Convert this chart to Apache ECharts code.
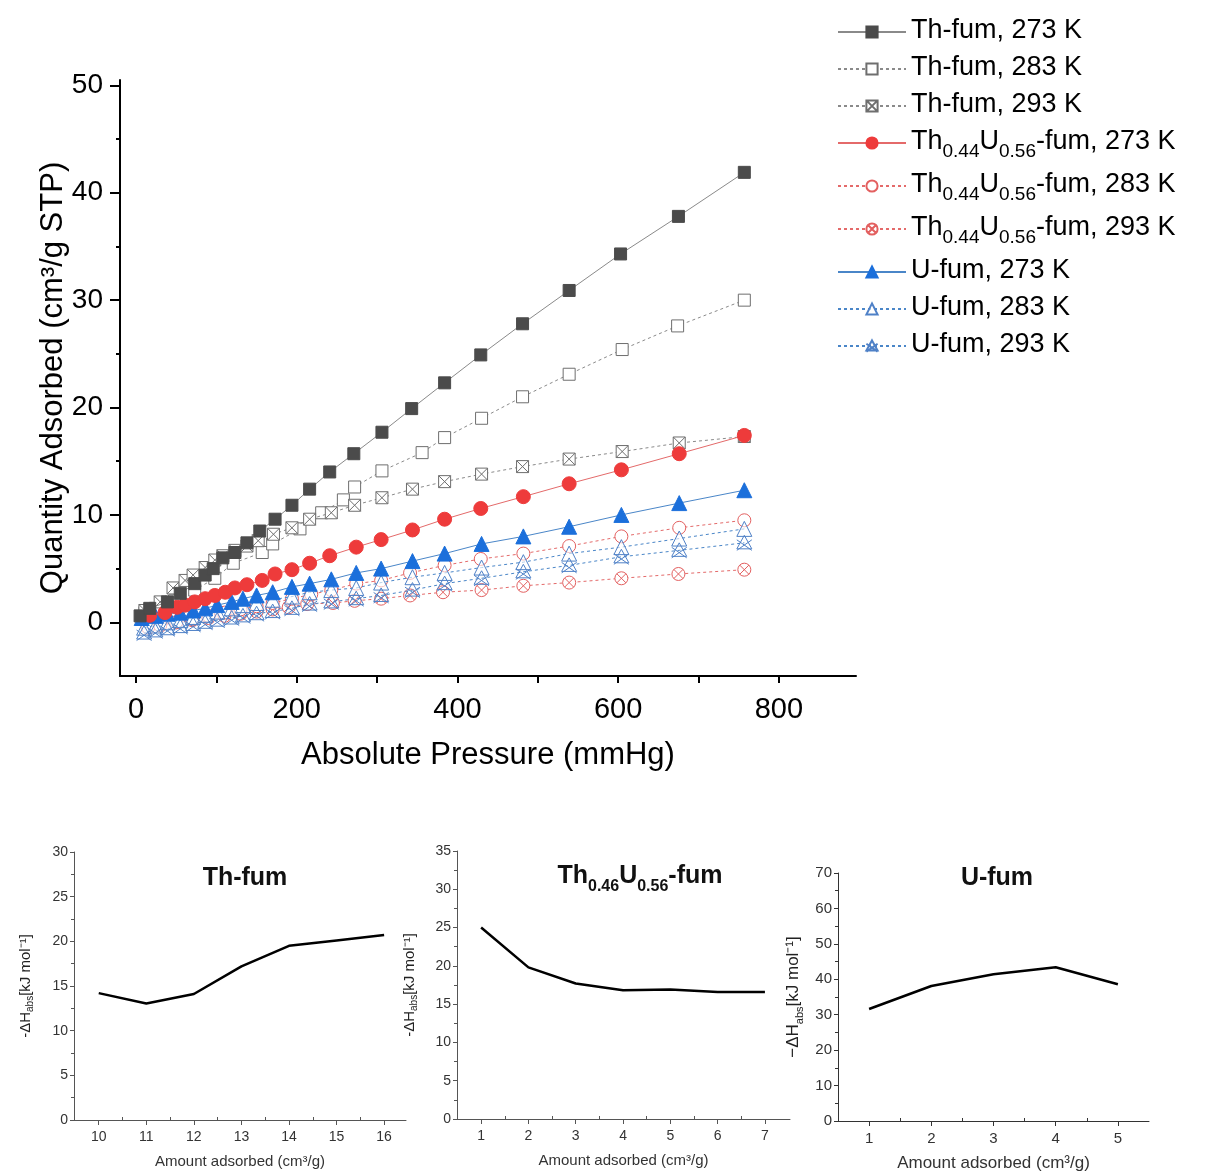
<!DOCTYPE html>
<html>
<head>
<meta charset="utf-8">
<script src="https://cdn.jsdelivr.net/npm/echarts@6/dist/echarts.min.js"></script>
<style>
html,body{margin:0;padding:0;background:#fff;}
#c{width:1219px;height:1173px;}
</style>
</head>
<body>
<div id="c"></div>
<script>
// ---------- Main isotherm data (pressure mmHg, quantity cm3/g STP) ----------
var TH273_P = [5, 17, 39, 55, 73, 86, 96, 108, 123, 138, 154, 173, 194, 216, 241, 271, 306, 343, 384, 429, 481, 539, 603, 675, 757];
var TH273_Q = [0.6, 1.3, 1.9, 2.7, 3.6, 4.4, 5.0, 6.0, 6.5, 7.4, 8.5, 9.6, 10.9, 12.4, 14.0, 15.7, 17.7, 19.9, 22.3, 24.9, 27.8, 30.9, 34.3, 37.8, 41.9];

var TH283_P = [11, 24, 48, 73, 98, 121, 157, 170, 204, 231, 258, 272, 306, 356, 384, 430, 481, 539, 605, 674, 757];
var TH283_Q = [0.9, 1.3, 2.0, 3.0, 4.1, 5.5, 6.5, 7.3, 8.7, 10.2, 11.4, 12.6, 14.1, 15.8, 17.2, 19.0, 21.0, 23.1, 25.4, 27.6, 30.0];

var TH293_P = [11, 30, 46, 61, 71, 86, 98, 108, 123, 138, 152, 171, 194, 216, 243, 272, 306, 344, 384, 430, 481, 539, 605, 676, 757];
var TH293_Q = [1.1, 1.9, 3.2, 3.9, 4.4, 5.1, 5.8, 6.2, 6.7, 7.1, 7.6, 8.2, 8.8, 9.6, 10.2, 10.9, 11.6, 12.4, 13.1, 13.8, 14.5, 15.2, 15.9, 16.7, 17.3];

var THU273_P = [17, 36, 51, 61, 73, 86, 98, 111, 123, 138, 157, 173, 194, 216, 241, 274, 305, 344, 384, 429, 482, 539, 604, 676, 757];
var THU273_Q = [0.65, 0.9, 1.4, 1.6, 1.9, 2.2, 2.5, 2.8, 3.2, 3.5, 3.9, 4.5, 4.9, 5.5, 6.2, 7.0, 7.7, 8.6, 9.6, 10.6, 11.7, 12.9, 14.2, 15.7, 17.4];

var THU283_P = [15, 30, 50, 70, 90, 110, 130, 150, 170, 194, 218, 243, 274, 305, 341, 384, 429, 482, 539, 604, 676, 757];
var THU283_Q = [-0.5, -0.3, 0.0, 0.3, 0.6, 0.9, 1.2, 1.5, 1.8, 2.2, 2.6, 3.0, 3.6, 3.9, 4.6, 5.3, 5.9, 6.4, 7.1, 8.0, 8.8, 9.5];

var THU293_P = [15, 30, 50, 70, 90, 110, 130, 150, 170, 190, 213, 245, 272, 305, 341, 382, 430, 482, 539, 604, 675, 757];
var THU293_Q = [-0.4, -0.2, 0.0, 0.2, 0.4, 0.6, 0.8, 1.0, 1.2, 1.4, 1.7, 1.8, 2.0, 2.2, 2.5, 2.8, 3.0, 3.4, 3.7, 4.1, 4.5, 4.9];

var U273_P = [7, 24, 39, 55, 71, 86, 101, 119, 133, 150, 170, 194, 216, 243, 274, 305, 344, 384, 430, 482, 539, 604, 676, 757];
var U273_Q = [0.4, 0.6, 0.8, 0.9, 1.1, 1.3, 1.6, 1.9, 2.2, 2.5, 2.8, 3.3, 3.6, 4.0, 4.6, 5.0, 5.7, 6.4, 7.3, 8.0, 8.9, 10.0, 11.1, 12.3];

var U283_P = [10, 24, 39, 55, 71, 86, 101, 119, 133, 150, 170, 194, 216, 243, 274, 305, 344, 384, 430, 482, 539, 604, 676, 757];
var U283_Q = [-0.5, -0.3, 0.0, 0.2, 0.5, 0.7, 1.0, 1.3, 1.6, 1.8, 2.1, 2.4, 2.8, 3.0, 3.2, 3.7, 4.2, 4.6, 5.1, 5.6, 6.4, 7.0, 7.8, 8.7];

var U293_P = [10, 24, 39, 55, 71, 86, 101, 119, 133, 150, 170, 194, 216, 243, 274, 305, 344, 384, 430, 482, 539, 604, 676, 757];
var U293_Q = [-1.0, -0.8, -0.6, -0.4, -0.2, 0.0, 0.2, 0.4, 0.6, 0.8, 1.0, 1.3, 1.7, 1.9, 2.2, 2.5, 3.0, 3.6, 4.1, 4.7, 5.3, 6.1, 6.7, 7.4];

var SERIES_NAMES = ['Th-fum, 273 K', 'Th-fum, 283 K', 'Th-fum, 293 K',
  'Th0.44U0.56-fum, 273 K', 'Th0.44U0.56-fum, 283 K', 'Th0.44U0.56-fum, 293 K',
  'U-fum, 273 K', 'U-fum, 283 K', 'U-fum, 293 K'];

var MAIN_X_LABELS = [0, 200, 400, 600, 800];
var MAIN_X_TICKS = [0, 100, 200, 300, 400, 500, 600, 700, 800];
var MAIN_Y_LABELS = [0, 10, 20, 30, 40, 50];
var MAIN_Y_MINOR = [5, 15, 25, 35, 45];

// ---------- Heat of adsorption data ----------
var TH_AMT = [10, 11, 12, 13, 14, 15, 16];
var TH_DH = [14.2, 13.05, 14.1, 17.2, 19.5, 20.1, 20.7];
var THU_AMT = [1, 2, 3, 4, 5, 6, 7];
var THU_DH = [25.0, 19.8, 17.7, 16.8, 16.9, 16.6, 16.6];
var U_AMT = [1, 2, 3, 4, 5];
var U_DH = [31.6, 38.1, 41.4, 43.4, 38.6];

var TH_X_LABELS = [10, 11, 12, 13, 14, 15, 16];
var TH_X_MINOR = [10.5, 11.5, 12.5, 13.5, 14.5, 15.5];
var THU_X_LABELS = [1, 2, 3, 4, 5, 6, 7];
var THU_X_MINOR = [1.5, 2.5, 3.5, 4.5, 5.5, 6.5];
var U_X_LABELS = [1, 2, 3, 4, 5];
var U_X_MINOR = [1.5, 2.5, 3.5, 4.5];

function zip(a, b) { return a.map(function (v, i) { return [v, b[i]]; }); }

var FONT = 'Liberation Sans, Arial, sans-serif';
var SQ_X = 'path://M0,0L10,0L10,10L0,10Z M0,0L10,10 M10,0L0,10';
var CIRC_X = 'path://M0,5A5,5,0,1,1,10,5A5,5,0,1,1,0,5Z M1.46,1.46L8.54,8.54 M8.54,1.46L1.46,8.54';
var TRI_X = 'path://M5,0L10,9L0,9Z M0,3L10,10 M10,3L0,10';

var GREY_FILL = '#4b4b4b', GREY_LINE = '#8a8a8a', GREY_OPEN = '#6e6e6e';
var RED_FILL = '#ee3b3b', RED_LINE = '#e46a6a', RED_OPEN = '#e36060';
var BLUE_FILL = '#1b6fdb', BLUE_LINE = '#4a86c8', BLUE_OPEN = '#4f81c7';

function mkSeries(name, p, q, symbol, size, fill, border, lineColor, dashed, z) {
  return {
    name: name, type: 'line', xAxisIndex: 0, yAxisIndex: 0,
    data: zip(p, q), symbol: symbol, symbolSize: size, showSymbol: true,
    z: z,
    itemStyle: { color: fill, borderColor: border, borderWidth: 1 },
    lineStyle: { color: lineColor, width: 1, type: dashed ? [3, 3] : 'solid' },
    emphasis: { disabled: true }, animation: false
  };
}

var series = [
  mkSeries(SERIES_NAMES[0], TH273_P, TH273_Q, 'rect', 12, GREY_FILL, GREY_FILL, GREY_LINE, false, 9),
  mkSeries(SERIES_NAMES[1], TH283_P, TH283_Q, 'rect', 12, '#fff', GREY_OPEN, GREY_LINE, true, 5),
  mkSeries(SERIES_NAMES[2], TH293_P, TH293_Q, SQ_X, 12, '#fff', GREY_OPEN, GREY_LINE, true, 6),
  mkSeries(SERIES_NAMES[3], THU273_P, THU273_Q, 'circle', 14, RED_FILL, RED_FILL, RED_LINE, false, 8),
  mkSeries(SERIES_NAMES[4], THU283_P, THU283_Q, 'circle', 13, '#fff', RED_OPEN, RED_LINE, true, 3),
  mkSeries(SERIES_NAMES[5], THU293_P, THU293_Q, CIRC_X, 13, '#fff', RED_OPEN, RED_LINE, true, 2),
  mkSeries(SERIES_NAMES[6], U273_P, U273_Q, 'triangle', 15, BLUE_FILL, BLUE_FILL, BLUE_LINE, false, 7),
  mkSeries(SERIES_NAMES[7], U283_P, U283_Q, 'triangle', 15, 'rgba(255,255,255,0.6)', BLUE_OPEN, BLUE_LINE, true, 4),
  mkSeries(SERIES_NAMES[8], U293_P, U293_Q, TRI_X, 15, 'rgba(255,255,255,0)', BLUE_OPEN, BLUE_LINE, true, 4)
];

function heatSeries(x, y, xi, yi) {
  return {
    type: 'line', xAxisIndex: xi, yAxisIndex: yi, data: zip(x, y),
    symbol: 'none', lineStyle: { color: '#000', width: 2.5 }, animation: false, silent: true
  };
}
series.push(heatSeries(TH_AMT, TH_DH, 1, 2));
series.push(heatSeries(THU_AMT, THU_DH, 2, 3));
series.push(heatSeries(U_AMT, U_DH, 3, 4));

var DH_RICH = {
  m: { fontSize: 15, lineHeight: 15, padding: [5, 0, 0, 0], verticalAlign: 'top', color: '#222', fontFamily: FONT },
  s: { fontSize: 10, lineHeight: 10, padding: [12, 0, 0, 0], verticalAlign: 'top', color: '#222', fontFamily: FONT }
};
var DH_RICH3 = {
  m: { fontSize: 17, lineHeight: 17, padding: [5, 0, 0, 0], verticalAlign: 'top', color: '#222', fontFamily: FONT },
  s: { fontSize: 11, lineHeight: 11, padding: [14, 0, 0, 0], verticalAlign: 'top', color: '#222', fontFamily: FONT }
};

function smallX(gi, min, max, labels, color, fs, name, nameFs) {
  return {
    gridIndex: gi, type: 'value', min: min, max: max,
    axisLine: { show: true, onZero: false, lineStyle: { color: color, width: 1 } },
    axisTick: { show: true, customValues: labels, length: 5, lineStyle: { color: color } },
    axisLabel: { customValues: labels, fontSize: fs, color: '#333', fontFamily: FONT, margin: 10 },
    splitLine: { show: false },
    name: name, nameLocation: 'middle', nameGap: 34,
    nameTextStyle: { fontSize: nameFs, color: '#333', fontFamily: FONT }
  };
}
function minorX(gi, min, max, vals, color) {
  return {
    gridIndex: gi, type: 'value', min: min, max: max, position: 'bottom',
    axisLine: { show: false, onZero: false },
    axisTick: { show: true, inside: true, customValues: vals, length: 3, lineStyle: { color: color } },
    axisLabel: { show: false }, splitLine: { show: false }
  };
}
function smallY(gi, max, interval, color, fs, nameRich, rich, gap) {
  return {
    gridIndex: gi, type: 'value', min: 0, max: max, interval: interval,
    axisLine: { show: true, onZero: false, lineStyle: { color: color, width: 1 } },
    axisTick: { show: true, length: 4, lineStyle: { color: color } },
    minorTick: { show: true, splitNumber: 2, length: 3, lineStyle: { color: color } },
    axisLabel: { fontSize: fs, color: '#333', fontFamily: FONT, margin: 6 },
    splitLine: { show: false },
    name: nameRich, nameLocation: 'middle', nameGap: gap, nameRotate: 90,
    nameTextStyle: { rich: rich }
  };
}

var LEG_RICH = {
  m: { fontSize: 27, lineHeight: 30, verticalAlign: 'top', color: '#000', fontFamily: FONT },
  s: { fontSize: 19, lineHeight: 19, padding: [14, 0, 0, 0], verticalAlign: 'top', color: '#000', fontFamily: FONT }
};

var option = {
  backgroundColor: '#fff',
  animation: false,
  textStyle: { fontFamily: FONT },
  grid: [
    { left: 120, top: 80, width: 736, height: 596 },
    { left: 74, top: 852, width: 332, height: 268 },
    { left: 457, top: 851, width: 333, height: 268 },
    { left: 838, top: 873, width: 311, height: 250 }
  ],
  legend: {
    data: SERIES_NAMES, orient: 'vertical', left: 832, top: 12,
    itemWidth: 68, itemHeight: 14, itemGap: 10, selectedMode: false,
    formatter: function (n) {
      if (n.indexOf('Th0.44U0.56') === 0) {
        return '{m|Th}{s|0.44}{m|U}{s|0.56}{m|' + n.replace('Th0.44U0.56', '') + '}';
      }
      return '{m|' + n + '}';
    },
    textStyle: { rich: LEG_RICH, fontSize: 27, color: '#000' }
  },
  xAxis: [
    {
      gridIndex: 0, type: 'value', min: -20, max: 896,
      axisLine: { show: true, onZero: false, lineStyle: { color: '#000', width: 2 } },
      axisTick: { show: true, customValues: MAIN_X_TICKS, length: 7, lineStyle: { color: '#000', width: 2 } },
      axisLabel: { customValues: MAIN_X_LABELS, fontSize: 29, color: '#000', fontFamily: FONT, margin: 19 },
      splitLine: { show: false },
      name: 'Absolute Pressure (mmHg)', nameLocation: 'middle', nameGap: 64,
      nameMoveOverlap: false,
      nameTextStyle: { fontSize: 31, color: '#000', fontFamily: FONT }
    },
    smallX(1, 9.48, 16.46, TH_X_LABELS, '#555', 14, 'Amount adsorbed (cm³/g)', 15),
    smallX(2, 0.49, 7.53, THU_X_LABELS, '#555', 14, 'Amount adsorbed (cm³/g)', 15),
    smallX(3, 0.5, 5.5, U_X_LABELS, '#333', 15, 'Amount adsorbed (cm³/g)', 17),
    minorX(1, 9.48, 16.46, TH_X_MINOR, '#555'),
    minorX(2, 0.49, 7.53, THU_X_MINOR, '#555'),
    minorX(3, 0.5, 5.5, U_X_MINOR, '#333')
  ],
  yAxis: [
    {
      gridIndex: 0, type: 'value', min: -5, max: 50.5,
      axisLine: { show: true, onZero: false, lineStyle: { color: '#000', width: 2 } },
      axisTick: { show: true, customValues: MAIN_Y_LABELS, length: 10, lineStyle: { color: '#000', width: 2 } },
      axisLabel: { customValues: MAIN_Y_LABELS, fontSize: 28, color: '#000', fontFamily: FONT, margin: 17 },
      splitLine: { show: false },
      name: 'Quantity Adsorbed (cm³/g STP)', nameLocation: 'middle', nameGap: 51,
      nameMoveOverlap: false,
      nameTextStyle: { fontSize: 31, color: '#000', fontFamily: FONT }
    },
    {
      gridIndex: 0, type: 'value', min: -5, max: 50.5, position: 'left',
      axisLine: { show: false, onZero: false },
      axisTick: { show: true, customValues: MAIN_Y_MINOR, length: 4, lineStyle: { color: '#000', width: 2 } },
      axisLabel: { show: false }, splitLine: { show: false }
    },
    smallY(1, 30, 5, '#555', 14, '{m|-ΔH}{s|abs}{m|[kJ mol⁻¹]}', DH_RICH, 46),
    smallY(2, 35, 5, '#555', 14, '{m|-ΔH}{s|abs}{m|[kJ mol⁻¹]}', DH_RICH, 45),
    smallY(3, 70, 10, '#333', 15, '{m|−ΔH}{s|abs}{m|[kJ mol⁻¹]}', DH_RICH3, 41)
  ],
  graphic: [
    { type: 'text', x: 245, y: 878, style: { text: 'Th-fum', font: 'bold 25px ' + FONT, fill: '#111', align: 'center', verticalAlign: 'middle' } },
    { type: 'text', x: 640, y: 878, style: {
        text: '{a|Th}{b|0.46}{a|U}{b|0.56}{a|-fum}', align: 'center', verticalAlign: 'middle',
        rich: {
          a: { font: 'bold 25px ' + FONT, fill: '#111', lineHeight: 28, verticalAlign: 'top' },
          b: { font: 'bold 16px ' + FONT, fill: '#111', lineHeight: 16, padding: [15, 0, 0, 0], verticalAlign: 'top' }
        } } },
    { type: 'text', x: 997, y: 878, style: { text: 'U-fum', font: 'bold 25px ' + FONT, fill: '#111', align: 'center', verticalAlign: 'middle' } }
  ],
  series: series
};

var chart = echarts.init(document.getElementById('c'), null, { renderer: 'canvas' });
chart.setOption(option);
</script>
</body>
</html>
